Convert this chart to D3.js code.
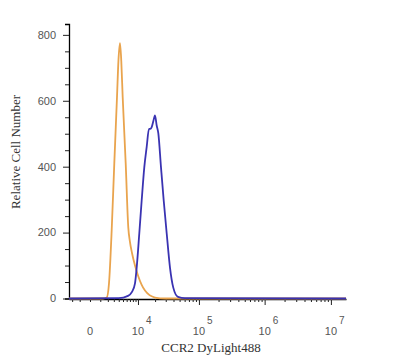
<!DOCTYPE html>
<html>
<head>
<meta charset="utf-8">
<script src="https://cdn.jsdelivr.net/npm/d3@7"></script>
<style>
  body { margin: 0; background: #fff; }
</style>
</head>
<body>
<div id="chart"></div>
<script>
// Histogram data (fluorescence value, cell count)
var isoValues = [-2500, 1329, 1831, 2177, 2619, 3088, 3620, 3938, 4273, 4578, 4921, 5720, 6480, 7000, 7687, 8786, 10005, 13400, 19930, 29180, 16900000];
var isoCounts = [0, 0, 3, 46, 207, 410, 611, 725, 775, 720, 611, 410, 215, 172, 138, 100, 70, 24, 3, 0, 0];

var ccr2Values = [-2500, 4000, 6386, 7687, 8786, 9462, 10580, 11697, 13020, 14358, 15744, 16600, 17518, 18800, 19930, 21285, 22647, 25097, 27775, 31080, 35138, 39680, 47160, 60770, 16900000];
var ccr2Counts = [0, 1, 8, 20, 46, 94, 198, 298, 398, 460, 515, 515, 520, 540, 556, 525, 502, 398, 298, 198, 94, 33, 5, 1, 0];

// Axis ticks
var yTicks = [0, 200, 400, 600, 800];
var yMinorTicks = d3.range(0, 801, 50);
var xMajorTicks = [10000, 100000, 1000000, 10000000];
var xMajorExp = ["4", "5", "6", "7"];
var xMinorTicks = [-2000, -1000, 0, 1000, 2000, 3000, 4000, 5000, 6000, 7000, 8000, 9000,
    20000, 30000, 40000, 50000, 60000, 70000, 80000, 90000,
    200000, 300000, 400000, 500000, 600000, 700000, 800000, 900000,
    2000000, 3000000, 4000000, 5000000, 6000000, 7000000, 8000000, 9000000];

var width = 400, height = 362;

var svg = d3.select("#chart")
    .append("svg")
        .attr("width", width)
        .attr("height", height);

// Biexponential-like x scale
var x = d3.scaleSymlog()
    .constant(2330)
    .domain([-2500, 16900000])
    .range([69, 346]);

var y = d3.scaleLinear()
    .domain([0, 833])
    .range([298.5, 24]);

// Y axis
var yAxis = svg.append("g")
    .attr("transform", "translate(69,0)");
yAxis.call(d3.axisLeft(y).tickValues(yMinorTicks).tickSize(4).tickSizeOuter(4).tickFormat(""));
yAxis.selectAll(".tick")
    .filter(function(d) { return yTicks.indexOf(d) >= 0; })
    .select("line").attr("x2", -6);
yAxis.select(".domain").attr("stroke-width", 1.3);
yAxis.selectAll("line").attr("stroke", "#222");

yAxis.selectAll(".ylab")
    .data(yTicks)
    .enter()
    .append("text")
    .attr("class", "ylab")
    .attr("x", -13)
    .attr("y", function(d) { return y(d); })
    .attr("dy", "0.35em")
    .attr("text-anchor", "end")
    .style("font-family", "'Liberation Sans', Arial, sans-serif")
    .style("font-size", "11px")
    .style("fill", "#555")
    .text(function(d) { return d; });

// X axis
var xAxis = svg.append("g")
    .attr("transform", "translate(0,299)");
xAxis.call(d3.axisBottom(x).tickValues(xMinorTicks.concat(xMajorTicks)).tickSize(3).tickSizeOuter(0).tickFormat(""));
xAxis.selectAll(".tick")
    .filter(function(d) { return xMajorTicks.indexOf(d) >= 0; })
    .select("line").attr("y2", 6);
xAxis.select(".domain").attr("stroke-width", 1.3);
xAxis.selectAll("line").attr("stroke", "#222");

var labelStyle = function(sel) {
    sel.style("font-family", "'Liberation Sans', Arial, sans-serif")
        .style("fill", "#555");
};

xAxis.append("text")
    .attr("x", x(0))
    .attr("y", 36)
    .attr("text-anchor", "middle")
    .style("font-size", "11px")
    .call(labelStyle)
    .text("0");

var major = xAxis.selectAll(".xlab")
    .data(xMajorTicks)
    .enter()
    .append("g")
    .attr("class", "xlab")
    .attr("transform", function(d) { return "translate(" + x(d) + ",0)"; });
major.append("text")
    .attr("x", 0)
    .attr("y", 36)
    .attr("text-anchor", "middle")
    .style("font-size", "11px")
    .call(labelStyle)
    .text("10");
major.append("text")
    .attr("x", 8)
    .attr("y", 25)
    .attr("text-anchor", "start")
    .style("font-size", "10px")
    .call(labelStyle)
    .text(function(d, i) { return xMajorExp[i]; });

// Axis titles
svg.append("text")
    .attr("x", 211)
    .attr("y", 352)
    .attr("text-anchor", "middle")
    .style("font-family", "'Liberation Serif', 'Times New Roman', serif")
    .style("font-size", "13px")
    .style("fill", "#333")
    .text("CCR2 DyLight488");

svg.append("text")
    .attr("transform", "translate(20,152) rotate(-90)")
    .attr("text-anchor", "middle")
    .style("font-family", "'Liberation Serif', 'Times New Roman', serif")
    .style("font-size", "13px")
    .style("fill", "#333")
    .text("Relative Cell Number");

// Histogram curves
var line = d3.line()
    .x(function(d) { return x(d[0]); })
    .y(function(d) { return y(d[1]); })
    .curve(d3.curveMonotoneX);

svg.append("path")
    .datum(d3.zip(isoValues, isoCounts))
    .attr("d", line)
    .attr("fill", "none")
    .attr("stroke", "#E9A44E")
    .attr("stroke-width", 1.8);

svg.append("path")
    .datum(d3.zip(ccr2Values, ccr2Counts))
    .attr("d", line)
    .attr("fill", "none")
    .attr("stroke", "#3A33B2")
    .attr("stroke-width", 1.8);
</script>
</body>
</html>
